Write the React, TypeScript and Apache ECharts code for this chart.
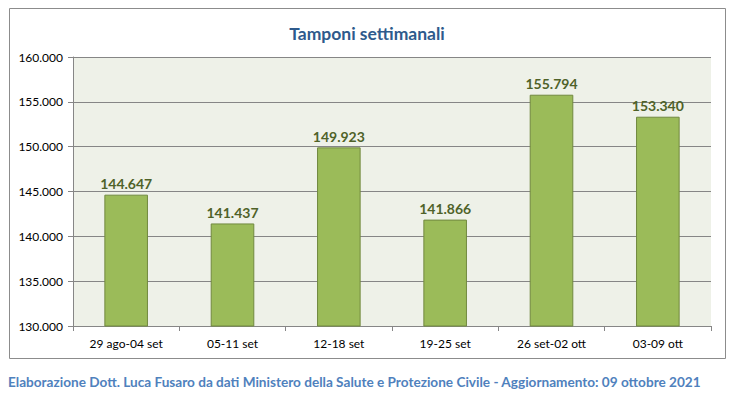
import React, { useEffect, useRef } from "react";
import * as echarts from "echarts";

const categories = ["29 ago-04 set", "05-11 set", "12-18 set", "19-25 set", "26 set-02 ott", "03-09 ott"];
const values = [144647, 141437, 149923, 141866, 155794, 153340];
const titleText = "Tamponi settimanali";
const footerText = "Elaborazione Dott. Luca Fusaro da dati Ministero della Salute e Protezione Civile - Aggiornamento: 09 ottobre 2021";

const fmt = (v: number) => {
  const s = Math.round(v).toString();
  return s.replace(/\B(?=(\d{3})+(?!\d))/g, ".");
};

export default function App() {
  const ref = useRef<HTMLDivElement>(null);
  useEffect(() => {
    if (!ref.current) return;
    const chart = echarts.init(ref.current, undefined, { renderer: "svg" });
    const font = "Lato, 'Open Sans', sans-serif";
    chart.setOption({
      animation: false,
      backgroundColor: "#ffffff",
      textStyle: { fontFamily: font },
      graphic: [
        {
          type: "rect",
          shape: { x: 9.5, y: 8.5, width: 716, height: 350 },
          style: { fill: "none", stroke: "#8c8c8c", lineWidth: 1 },
          z: -1,
        },
        {
          type: "text",
          left: 8,
          top: 375,
          style: {
            text: footerText,
            fill: "#4f81bd",
            font: `bold 13.6px ${font}`,
          },
        },
      ],
      title: {
        text: titleText,
        left: "center",
        top: 19,
        textStyle: { color: "#2e5a8c", fontSize: 17.5, fontWeight: "bold", fontFamily: font },
      },
      grid: {
        left: 73,
        right: 23,
        top: 57,
        bottom: 69,
        show: true,
        backgroundColor: "#eef1e8",
        borderWidth: 0,
      },
      xAxis: {
        type: "category",
        data: categories,
        axisLine: { lineStyle: { color: "#868686" } },
        axisTick: { show: true, alignWithLabel: false, length: 5, lineStyle: { color: "#868686" } },
        axisLabel: { color: "#000", fontSize: 12, margin: 11, fontFamily: font },
      },
      yAxis: {
        type: "value",
        min: 130000,
        max: 160000,
        interval: 5000,
        axisLine: { show: true, lineStyle: { color: "#868686" } },
        axisTick: { show: true, length: 5, lineStyle: { color: "#868686" } },
        axisLabel: { color: "#000", fontSize: 12, margin: 10, fontFamily: font, formatter: (v: number) => fmt(v) },
        splitLine: { lineStyle: { color: "#868686" } },
      },
      series: [
        {
          type: "bar",
          data: values,
          barWidth: "41%",
          itemStyle: { color: "#9bbb59", borderColor: "#71893f", borderWidth: 1 },
          label: {
            show: true,
            position: "top",
            distance: 4,
            color: "#4f6228",
            fontSize: 14,
            fontWeight: "bold",
            fontFamily: font,
            formatter: (p: any) => fmt(p.value),
          },
        },
      ],
    });
    return () => chart.dispose();
  }, []);
  return <div ref={ref} style={{ position: "fixed", left: 0, top: 0, width: 734, height: 395 }} />;
}
